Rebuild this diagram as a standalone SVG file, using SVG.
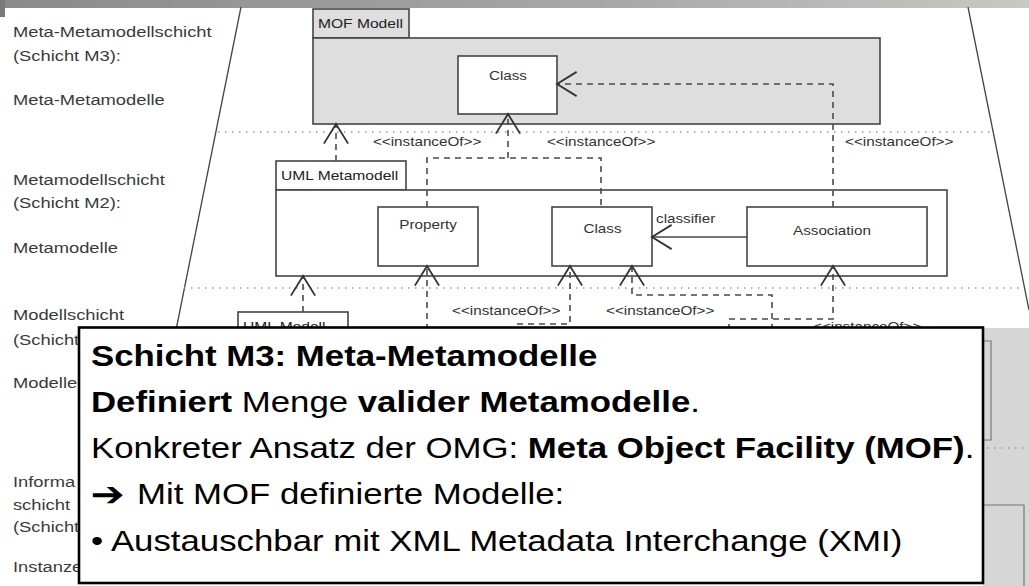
<svg xmlns="http://www.w3.org/2000/svg" width="1029" height="586" viewBox="0 0 1029 586">
<defs>
<linearGradient id="bar" x1="0" y1="0" x2="1" y2="0">
<stop offset="0" stop-color="#8a8a8a"/>
<stop offset="0.6" stop-color="#a8a8a8"/>
<stop offset="1" stop-color="#c9c9c2"/>
</linearGradient>
<marker id="open" markerUnits="userSpaceOnUse" markerWidth="30" markerHeight="30" viewBox="-20 -13 22 26" refX="0" refY="0" orient="auto" overflow="visible">
<path d="M-17,-10.5 L0,0 L-17,10.5" fill="none" stroke="#333" stroke-width="1.6"/>
</marker>
<style>
.lbl{font-family:"Liberation Sans",Arial,sans-serif;font-size:15.3px;fill:#3a3a3a}
.dl{font-family:"Liberation Sans",Arial,sans-serif;font-size:12.7px;fill:#333}
.tab{font-family:"Liberation Sans",Arial,sans-serif;font-size:13px;fill:#222}
.big{font-family:"Liberation Sans",Arial,sans-serif;font-size:29px;fill:#000}
.b{font-weight:bold}
.box{fill:#fff;stroke:#444;stroke-width:1.6}
.gbox{fill:#dedede;stroke:#444;stroke-width:1.6}
.dash{fill:none;stroke:#4a4a4a;stroke-width:1.6;stroke-dasharray:6 5}
.solid{fill:none;stroke:#4a4a4a;stroke-width:1.6}
.dot{fill:none;stroke:#9a9a9a;stroke-width:1.4;stroke-dasharray:1.5 5.5}
.edge{fill:none;stroke:#444;stroke-width:1.3}
</style>
</defs>
<rect width="1029" height="586" fill="#fff"/>
<!-- top bar -->
<rect x="0" y="0" width="1029" height="8" fill="url(#bar)"/>
<rect x="0" y="0" width="5" height="17" fill="#7a7a7a"/>
<!-- right gray region -->
<rect x="983" y="328" width="46" height="258" fill="#d6d6d6"/>
<path d="M983,341 H991 V440 H983" class="solid" style="stroke:#777;stroke-width:1.2"/>
<path d="M983,505 H1024 V586" class="solid" style="stroke:#777;stroke-width:1.2"/>
<line x1="987" y1="448" x2="1029" y2="448" class="dot"/>
<!-- trapezoid edges -->
<line x1="241" y1="7" x2="175" y2="335" class="edge"/>
<line x1="968" y1="7" x2="1029" y2="310" class="edge"/>
<!-- layer separators -->
<line x1="218" y1="132" x2="990" y2="132" class="dot"/>
<line x1="184" y1="288" x2="1020" y2="288" class="dot"/>

<!-- left labels -->
<g id="layer-labels" transform="scale(1.2,1)">
<text class="lbl" x="10.8" y="37">Meta-Metamodellschicht</text>
<text class="lbl" x="10.8" y="61">(Schicht M3):</text>
<text class="lbl" x="10.8" y="105">Meta-Metamodelle</text>
<text class="lbl" x="10.8" y="185">Metamodellschicht</text>
<text class="lbl" x="10.8" y="208">(Schicht M2):</text>
<text class="lbl" x="10.8" y="253">Metamodelle</text>
<text class="lbl" x="10.8" y="320">Modellschicht</text>
<text class="lbl" x="10.8" y="345">(Schicht</text>
<text class="lbl" x="10.8" y="388">Modelle</text>
<text class="lbl" x="10.8" y="487">Informa</text>
<text class="lbl" x="10.8" y="510">schicht</text>
<text class="lbl" x="10.8" y="532">(Schicht</text>
<text class="lbl" x="10.8" y="572">Instanze</text>
</g>

<!-- MOF Modell package -->
<g id="mof-modell">
<rect x="313" y="9" width="96" height="29" class="gbox"/>
<rect x="313" y="38" width="567" height="86" class="gbox"/>
<text class="tab" transform="scale(1.2,1)" x="265" y="28">MOF Modell</text>
</g>
<g id="m3-class">
<rect x="458" y="56" width="99" height="58" class="box"/>
<text class="dl" transform="scale(1.2,1)" x="423.3" y="80" text-anchor="middle">Class</text>
</g>

<!-- UML Metamodell package -->
<g id="uml-metamodell">
<rect x="276" y="161" width="130" height="29" class="box"/>
<rect x="276" y="190" width="671" height="86" class="box"/>
<text class="tab" transform="scale(1.2,1)" x="234.2" y="180">UML Metamodell</text>
</g>
<g id="m2-property">
<rect x="378" y="207" width="100" height="59" class="box"/>
<text class="dl" transform="scale(1.2,1)" x="356.7" y="229.5" text-anchor="middle">Property</text>
</g>
<g id="m2-class">
<rect x="552" y="207" width="100" height="59" class="box"/>
<text class="dl" transform="scale(1.2,1)" x="502.1" y="233" text-anchor="middle">Class</text>
</g>
<g id="m2-association">
<rect x="747" y="207" width="180" height="59" class="box"/>
<text class="dl" transform="scale(1.2,1)" x="693.3" y="235" text-anchor="middle">Association</text>
</g>

<!-- UML Modell package (partly hidden) -->
<g id="uml-modell">
<rect x="238" y="312" width="110" height="30" class="box"/>
<text class="tab" transform="scale(1.2,1)" x="202.5" y="331">UML Modell</text>
</g>

<!-- connectors -->
<g id="connectors">
<path d="M336,161 V124" class="dash" marker-end="url(#open)"/>
<path d="M427,207 V158 H601 V207" class="dash"/>
<path d="M508,158 V114" class="dash" marker-end="url(#open)"/>
<path d="M833,207 V84 H557" class="dash" marker-end="url(#open)"/>
<path d="M747,237 H652" class="solid" marker-end="url(#open)"/>
<path d="M303,312 V276" class="dash" marker-end="url(#open)"/>
<path d="M427,330 V266" class="dash" marker-end="url(#open)"/>
<path d="M517,324 H570 V266" class="dash" marker-end="url(#open)"/>
<path d="M772,330 V295 H632 V266" class="dash" marker-end="url(#open)"/>
<path d="M729,330 V319 H833 V266" class="dash" marker-end="url(#open)"/>
<g transform="scale(1.2,1)">
<text class="dl" x="310.8" y="146">&lt;&lt;instanceOf&gt;&gt;</text>
<text class="dl" x="455.8" y="146">&lt;&lt;instanceOf&gt;&gt;</text>
<text class="dl" x="704.2" y="146">&lt;&lt;instanceOf&gt;&gt;</text>
<text class="dl" x="546.7" y="223">classifier</text>
<text class="dl" x="376.7" y="315">&lt;&lt;instanceOf&gt;&gt;</text>
<text class="dl" x="505" y="315">&lt;&lt;instanceOf&gt;&gt;</text>
<text class="dl" x="677.5" y="331">&lt;&lt;instanceOf&gt;&gt;</text>
</g>
</g>

<!-- callout box -->
<g id="callout">
<rect x="79" y="327.5" width="904" height="255.5" fill="#fff" stroke="#000" stroke-width="2.6"/>
<g transform="scale(1.2,1)">
<text class="big b" x="75.8" y="366">Schicht M3: Meta-Metamodelle</text>
<text class="big" x="75.8" y="412"><tspan class="b">Definiert</tspan> Menge <tspan class="b">valider Metamodelle</tspan>.</text>
<text class="big" x="75.8" y="458">Konkreter Ansatz der OMG: <tspan class="b">Meta Object Facility (MOF)</tspan>.</text>
<text class="big" x="75.5" y="506" style="font-family:'DejaVu Sans',sans-serif;font-size:34px;font-weight:bold">➔</text>
<text class="big" x="114.2" y="504">Mit MOF definierte Modelle:</text>
<text class="big" x="75.8" y="551">• Austauschbar mit XML Metadata Interchange (XMI)</text>
</g>
</g>
</svg>
